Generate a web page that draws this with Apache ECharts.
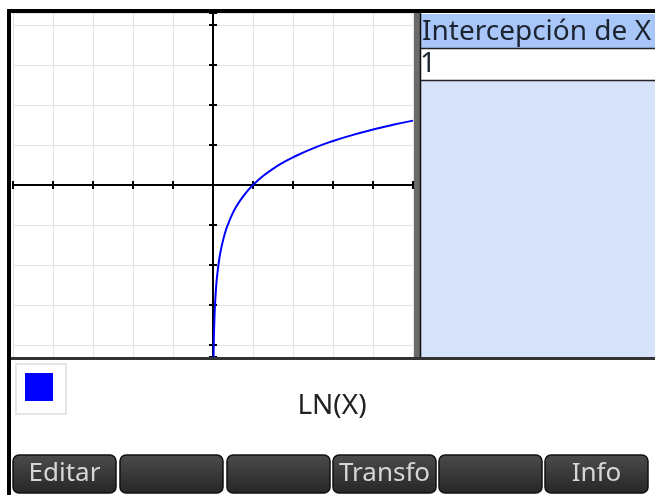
<!DOCTYPE html>
<html>
<head>
<meta charset="utf-8">
<script src="https://cdn.jsdelivr.net/npm/echarts@6/dist/echarts.min.js"></script>
<style>
html,body{margin:0;padding:0;background:#fff;}
#main{width:655px;height:495px;}
</style>
</head>
<body>
<div id="main"></div>
<script>
// Curve points (x, y = LN(X))
const curveX = [0.0136, 0.02, 0.03, 0.05, 0.075, 0.1, 0.15, 0.2, 0.3, 0.4, 0.5, 0.6, 0.75, 0.9, 1, 1.25, 1.5, 1.75, 2, 2.5, 3, 3.5, 4, 4.5, 5];
const curveY = [-4.3, -3.91, -3.51, -3.0, -2.59, -2.3, -1.9, -1.61, -1.2, -0.92, -0.69, -0.51, -0.29, -0.105, 0, 0.223, 0.405, 0.56, 0.693, 0.916, 1.099, 1.253, 1.386, 1.504, 1.609];
const xRange = [-5, 5];
const yRange = [-4.3, 4.3];
const tableHeader = 'Intercepción de X';
const tableValues = ['1'];
const functionLabel = 'LN(X)';
const menuLabels = ['Editar', '', '', 'Transfo', '', 'Info'];

const chart = echarts.init(document.getElementById('main'), null, {renderer: 'canvas'});
const points = curveX.map((x, i) => [x, curveY[i]]);
const FONT = '"Noto Sans", "Open Sans", sans-serif';

const gridLine = {show: true, lineStyle: {color: '#e4e4e4', width: 1}};
function xAx(second) {
  return {
    type: 'value', min: xRange[0], max: xRange[1], interval: 1,
    position: second ? 'top' : 'bottom',
    axisLine: {show: true, onZero: true, lineStyle: {color: '#000', width: 2}},
    axisTick: {show: true, inside: false, length: 4, lineStyle: {color: '#000', width: 2}},
    axisLabel: {show: false},
    splitLine: second ? {show: false} : gridLine
  };
}
function yAx(second) {
  return {
    type: 'value', min: yRange[0], max: yRange[1], splitNumber: 8, minInterval: 1, maxInterval: 1,
    position: second ? 'right' : 'left',
    axisLine: {show: true, onZero: true, lineStyle: {color: '#000', width: 2}},
    axisTick: {show: true, inside: false, length: 4, lineStyle: {color: '#000', width: 2}},
    axisLabel: {show: false},
    splitLine: second ? {show: false} : gridLine
  };
}

const graphics = [];
// Right panel
graphics.push({type: 'rect', shape: {x: 421, y: 48, width: 234, height: 32}, style: {fill: '#fff'}, z: 1});
graphics.push({type: 'rect', shape: {x: 421, y: 14, width: 234, height: 34}, style: {fill: '#a8c6f8'}, z: 1});
graphics.push({type: 'rect', shape: {x: 421, y: 81, width: 234, height: 277}, style: {fill: '#d7e3fb'}, z: 1});
graphics.push({type: 'line', shape: {x1: 421, y1: 48.5, x2: 655, y2: 48.5}, style: {stroke: '#222', lineWidth: 1.5}, z: 2});
graphics.push({type: 'line', shape: {x1: 421, y1: 80.5, x2: 655, y2: 80.5}, style: {stroke: '#222', lineWidth: 1.5}, z: 2});
graphics.push({type: 'text', x: 422, y: 32, style: {text: tableHeader, font: '28px ' + FONT, fill: '#1c2430', textVerticalAlign: 'middle'}, z: 3});
graphics.push({type: 'text', x: 420, y: 64, style: {text: tableValues[0], font: '28px ' + FONT, fill: '#1c2430', textVerticalAlign: 'middle'}, z: 3});
// Separator strip
graphics.push({type: 'rect', shape: {x: 414, y: 13, width: 6, height: 345}, style: {fill: '#6a6a6a'}, z: 2});
graphics.push({type: 'line', shape: {x1: 420.5, y1: 13, x2: 420.5, y2: 358}, style: {stroke: '#111', lineWidth: 1.5}, z: 2});
// Borders
graphics.push({type: 'rect', shape: {x: 7, y: 9, width: 648, height: 4}, style: {fill: '#000'}, z: 5});
graphics.push({type: 'rect', shape: {x: 7, y: 9, width: 4, height: 486}, style: {fill: '#000'}, z: 5});
graphics.push({type: 'rect', shape: {x: 11, y: 357, width: 644, height: 3}, style: {fill: '#333'}, z: 5});
// Legend swatch
graphics.push({type: 'rect', shape: {x: 16, y: 364, width: 50, height: 50}, style: {fill: '#fff', stroke: '#e2e8e8', lineWidth: 2}, z: 3});
graphics.push({type: 'rect', shape: {x: 25, y: 373, width: 28, height: 28}, style: {fill: '#0000ff'}, z: 4});
graphics.push({type: 'text', x: 332, y: 406, style: {text: functionLabel, font: '28px ' + FONT, fill: '#222', textAlign: 'center', textVerticalAlign: 'middle'}, z: 3});
// Menu buttons
const btnX = [13, 120, 227, 333, 439, 545];
menuLabels.forEach((lab, i) => {
  graphics.push({type: 'rect', shape: {x: btnX[i], y: 455, width: 103, height: 38, r: 6},
    style: {fill: new echarts.graphic.LinearGradient(0, 0, 0, 1, [{offset: 0, color: '#4c4c4c'}, {offset: 1, color: '#262626'}]), stroke: '#111', lineWidth: 1.5}, z: 3});
  if (lab) graphics.push({type: 'text', x: btnX[i] + 51.5, y: 474, style: {text: lab, font: '26px ' + FONT, fill: '#d6d6d6', textAlign: 'center', textVerticalAlign: 'middle'}, z: 4});
});

chart.setOption({
  animation: false,
  backgroundColor: '#fff',
  grid: {left: 13, top: 13, width: 400, height: 344, containLabel: false},
  xAxis: [xAx(false), xAx(true)],
  yAxis: [yAx(false), yAx(true)],
  series: [{
    type: 'line', data: points, xAxisIndex: 0, yAxisIndex: 0,
    showSymbol: false, smooth: true, clip: true,
    lineStyle: {color: '#0000ff', width: 2}, z: 10
  }],
  graphic: graphics
});
</script>
</body>
</html>
